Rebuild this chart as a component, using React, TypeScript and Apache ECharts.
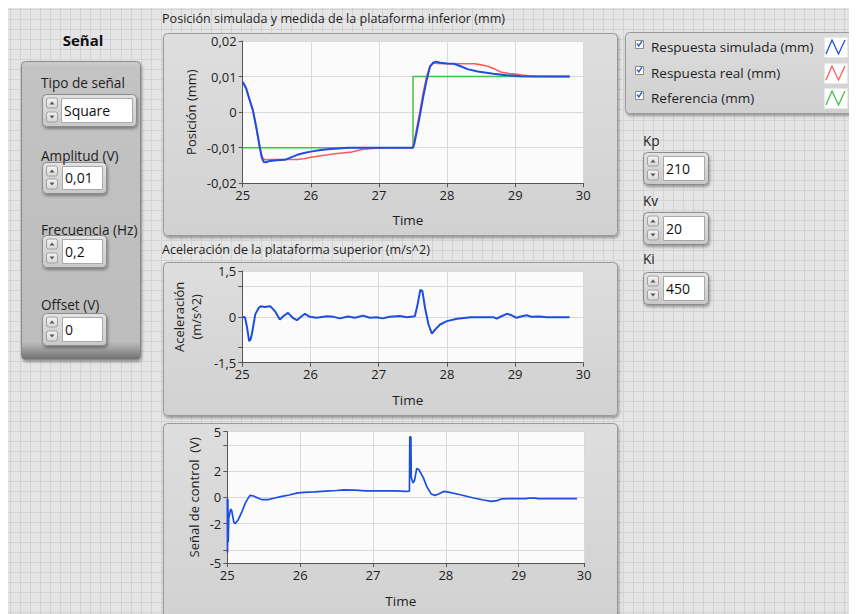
import React, { useEffect, useRef } from "react";
import * as echarts from "echarts";

// ---------- DATA ----------
const timeTicks = [25, 26, 27, 28, 29, 30];
const ctlTimeTicks = [25, 26, 27, 28, 29, 29.9];

const simulatedResponse: [number, number][] = [
  [25.0, 0.0085], [25.05, 0.0067], [25.1, 0.0035], [25.15, 0.0005], [25.2, -0.0043],
  [25.25, -0.0098], [25.28, -0.0128], [25.31, -0.0140], [25.34, -0.0141], [25.4, -0.0137],
  [25.5, -0.0135], [25.62, -0.0134], [25.7, -0.0128], [25.8, -0.0120], [25.9, -0.0115],
  [26.0, -0.0111], [26.12, -0.0107], [26.25, -0.0104], [26.4, -0.0102], [26.55, -0.0100],
  [27.0, -0.0100], [27.3, -0.0100], [27.5, -0.0100], [27.52, -0.0088], [27.56, -0.0050],
  [27.6, -0.0010], [27.65, 0.0043], [27.7, 0.0090], [27.75, 0.0128], [27.8, 0.0140],
  [27.84, 0.0142], [27.9, 0.0139], [28.0, 0.0137], [28.1, 0.0136], [28.2, 0.0129],
  [28.3, 0.0121], [28.45, 0.0114], [28.68, 0.0108], [28.87, 0.0104], [29.07, 0.0101],
  [29.3, 0.0100], [29.8, 0.0100],
];

const realResponse: [number, number][] = [
  [25.0, 0.0085], [25.05, 0.0068], [25.1, 0.0037], [25.15, 0.0006], [25.2, -0.0045],
  [25.25, -0.0100], [25.29, -0.0128], [25.33, -0.0134], [25.45, -0.0133], [25.65, -0.0133],
  [25.8, -0.0133], [25.9, -0.0131], [26.0, -0.0127], [26.2, -0.0121], [26.35, -0.0117],
  [26.5, -0.0114], [26.6, -0.0112], [26.75, -0.0105], [26.9, -0.0102], [27.1, -0.0100],
  [27.5, -0.0100], [27.52, -0.0082], [27.56, -0.0040], [27.6, 0.0000], [27.65, 0.0055],
  [27.7, 0.0100], [27.75, 0.0130], [27.8, 0.0138], [27.85, 0.0137], [28.0, 0.0136],
  [28.4, 0.0136], [28.5, 0.0133], [28.6, 0.0129], [28.7, 0.0121], [28.8, 0.0112],
  [28.9, 0.0109], [29.0, 0.0107], [29.1, 0.0104], [29.2, 0.0102], [29.3, 0.0101],
  [29.8, 0.0100],
];

const referenceSignal: [number, number][] = [
  [25.0, -0.01], [27.5, -0.01], [27.5, 0.01], [29.8, 0.01],
];

const acceleration: [number, number][] = [
  [25.0, 0.0], [25.04, -0.02], [25.07, -0.35], [25.1, -0.79], [25.12, -0.75],
  [25.14, -0.57], [25.19, 0.08], [25.24, 0.29], [25.27, 0.35], [25.33, 0.32],
  [25.41, 0.35], [25.48, 0.18], [25.55, -0.09], [25.6, 0.02], [25.67, 0.13],
  [25.74, -0.03], [25.8, -0.11], [25.87, 0.02], [25.92, 0.1], [25.99, 0.0],
  [26.09, -0.03], [26.24, 0.02], [26.34, 0.0], [26.43, -0.05], [26.55, 0.01],
  [26.65, -0.03], [26.77, 0.04], [26.87, -0.03], [26.97, -0.01], [27.06, -0.05],
  [27.16, 0.0], [27.31, 0.03], [27.41, -0.01], [27.53, 0.02], [27.57, 0.4],
  [27.61, 0.88], [27.64, 0.85], [27.68, 0.29], [27.73, -0.25], [27.78, -0.55],
  [27.83, -0.41], [27.9, -0.25], [28.0, -0.14], [28.15, -0.06], [28.35, -0.01],
  [28.54, -0.01], [28.68, -0.01], [28.73, -0.06], [28.8, 0.02], [28.88, 0.1],
  [28.95, 0.05], [29.02, -0.03], [29.1, 0.02], [29.17, 0.05], [29.24, 0.0],
  [29.36, 0.01], [29.46, -0.01], [29.8, -0.01],
];

const controlSignal: [number, number][] = [
  [25.0, -0.1], [25.003, -4.2], [25.008, -0.1], [25.013, -3.4], [25.02, -1.6],
  [25.045, -0.9], [25.06, -1.0], [25.09, -1.9], [25.11, -2.0], [25.15, -1.7],
  [25.2, -1.1], [25.25, -0.4], [25.31, 0.15], [25.36, 0.1], [25.42, -0.05],
  [25.48, -0.18], [25.56, -0.17], [25.65, -0.05], [25.75, 0.08], [25.85, 0.18],
  [25.95, 0.32], [26.05, 0.38], [26.2, 0.42], [26.35, 0.47], [26.5, 0.52],
  [26.6, 0.57], [26.75, 0.55], [26.9, 0.5], [27.1, 0.5], [27.3, 0.5],
  [27.45, 0.45], [27.5, 0.48], [27.505, 4.6], [27.52, 4.6], [27.525, 1.5],
  [27.55, 1.1], [27.57, 1.3], [27.6, 2.2], [27.63, 2.1], [27.69, 1.5],
  [27.74, 0.8], [27.8, 0.25], [27.85, 0.15], [27.9, 0.25], [27.97, 0.45],
  [28.02, 0.42], [28.2, 0.2], [28.38, -0.05], [28.52, -0.2], [28.62, -0.3],
  [28.7, -0.25], [28.76, -0.12], [28.85, -0.1], [29.1, -0.1], [29.15, -0.05],
  [29.22, -0.06], [29.27, -0.1], [29.8, -0.1],
];

const accGridTicks = [-1.5, -1, 0, 1, 1.5];
const accLabelTicks = [-1.5, 0, 1.5];
const ctlGridTicks = [-5, -4, -2, 0, 2, 4, 5];
const ctlLabelTicks = [-5, -2, 0, 2, 5];

const legendItems = ["Respuesta simulada (mm)", "Respuesta real (mm)", "Referencia (mm)"];
const seriesColors = ["#1d4ee0", "#ff5a5a", "#45bf45"];

const signalControls = [
  { label: "Tipo de señal", value: "Square" },
  { label: "Amplitud (V)", value: "0,01" },
  { label: "Frecuencia (Hz)", value: "0,2" },
  { label: "Offset (V)", value: "0" },
];
const gainControls = [
  { label: "Kp", value: "210" },
  { label: "Kv", value: "20" },
  { label: "Ki", value: "450" },
];

// ---------- STYLE ----------
const F = "'Open Sans', 'Noto Sans', sans-serif";
const TXT = "#1e1e1e";
const O = 8; // page offset (body margin)

const fmt = (v: number) => String(Number(v.toFixed(4))).replace(".", ",");

function grad(stops: [number, string][]) {
  return {
    type: "linear", x: 0, y: 0, x2: 0, y2: 1,
    colorStops: stops.map(([offset, color]) => ({ offset, color })),
  };
}

function panel(x: number, y: number, w: number, h: number, fill: any, stroke = "#9a9a9a") {
  return {
    type: "rect", z: -50, silent: true,
    shape: { x: x - O + 0.5, y: y - O + 0.5, width: w, height: h, r: 4 },
    style: {
      fill, stroke, lineWidth: 1,
      shadowBlur: 3, shadowOffsetX: 1, shadowOffsetY: 2, shadowColor: "rgba(0,0,0,0.35)",
    },
  };
}

function text(x: number, y: number, s: string, opts: any = {}) {
  return {
    type: "text", z: 10, silent: true,
    x: x - O, y: y - O,
    style: {
      text: s, fill: opts.fill || TXT, font: `${opts.bold ? "bold " : ""}${opts.size || 13}px ${F}`,
      textAlign: opts.align || "left", textVerticalAlign: "middle",
    },
  };
}

function spinControl(x: number, y: number, w: number, h: number, fieldX: number, value: string, out: any[]) {
  out.push(panel(x, y, w, h, grad([[0, "#e2e2e2"], [1, "#c9c9c9"]]), "#8c8c8c"));
  const bx = x + 4.5, bw = 11, bh = 10;
  const upY = y + 4, dnY = y + h - 4 - bh;
  for (const [by, up] of [[upY, true], [dnY, false]] as [number, boolean][]) {
    out.push({
      type: "rect", z: -40, silent: true,
      shape: { x: bx - O, y: by - O, width: bw, height: bh, r: 2 },
      style: { fill: grad([[0, "#f4f4f4"], [1, "#d6d6d6"]]), stroke: "#a0a0a0", lineWidth: 1 },
    });
    const cx = bx + bw / 2 - O, cy = by + bh / 2 - O;
    out.push({
      type: "polygon", z: -39, silent: true,
      shape: {
        points: up
          ? [[cx - 2.5, cy + 1.5], [cx + 2.5, cy + 1.5], [cx, cy - 1.5]]
          : [[cx - 2.5, cy - 1.5], [cx + 2.5, cy - 1.5], [cx, cy + 1.5]],
      },
      style: { fill: "#555" },
    });
  }
  out.push({
    type: "rect", z: -40, silent: true,
    shape: { x: fieldX - O + 0.5, y: y + 4 - O + 0.5, width: x + w - 4 - fieldX, height: h - 8 },
    style: { fill: "#ffffff", stroke: "#a8a8a8", lineWidth: 1 },
  });
  out.push(text(fieldX + 3, y + h / 2, value, { size: 14, fill: "#111" }));
}

function buildGraphics() {
  const g: any[] = [];
  // page background with LabVIEW grid
  g.push({ type: "rect", z: -100, silent: true, shape: { x: 0, y: 0, width: 860, height: 620 }, style: { fill: "#e5e5e5" } });
  for (let x = 10; x < 860; x += 10.05) {
    const px = Math.round(x - O) + 0.5;
    g.push({ type: "line", z: -99, silent: true, shape: { x1: px, y1: 0, x2: px, y2: 620 }, style: { stroke: "#d3d3d3", lineWidth: 1 } });
  }
  for (let y = 9; y < 620; y += 10.05) {
    const py = Math.round(y - O) + 0.5;
    g.push({ type: "line", z: -99, silent: true, shape: { x1: 0, y1: py, x2: 860, y2: py }, style: { stroke: "#d3d3d3", lineWidth: 1 } });
  }

  // Left "Señal" panel
  g.push(text(83, 40, "Señal", { bold: true, size: 15, align: "center", fill: "#111" }));
  g.push(panel(21, 61, 119, 298, grad([[0, "#cdcdcd"], [0.02, "#c3c3c3"], [0.94, "#bdbdbd"], [0.965, "#9e9e9e"], [1, "#6e6e6e"]]), "#8a8a8a"));
  const sc = [
    { ly: 82, y: 94, w: 94, h: 32, fx: 61 },
    { ly: 155, y: 162, w: 64, h: 31, fx: 62 },
    { ly: 229, y: 235, w: 64, h: 32, fx: 62 },
    { ly: 304, y: 313, w: 64, h: 32, fx: 62 },
  ];
  signalControls.forEach((c, i) => {
    const p = sc[i];
    g.push(text(41, p.ly, c.label, { size: 13.6 }));
    spinControl(42, p.y, p.w, p.h, p.fx, c.value, g);
  });

  // Chart panels
  const chartFill = grad([[0, "#dedede"], [1, "#d1d1d1"]]);
  g.push(panel(163, 33, 454, 202, chartFill));
  g.push(panel(163, 262, 454, 153, chartFill));
  g.push(panel(163, 423, 454, 200, chartFill));
  g.push(text(162, 18, "Posición simulada y medida de la plataforma inferior (mm)", { size: 12.6 }));
  g.push(text(162, 249, "Aceleración de la plataforma superior (m/s^2)", { size: 12.6 }));

  // Legend panel
  g.push(panel(625, 32, 240, 81, grad([[0, "#dcdcdc"], [1, "#d0d0d0"]])));
  const rows = [47, 73, 98];
  legendItems.forEach((name, i) => {
    const cy = rows[i];
    g.push({
      type: "rect", z: 5, silent: true,
      shape: { x: 635 - O + 0.5, y: cy - 7 - O + 0.5, width: 8, height: 8 },
      style: { fill: "#ffffff", stroke: "#8a8a8a", lineWidth: 1 },
    });
    g.push({
      type: "polyline", z: 6, silent: true,
      shape: { points: [[637 - O, cy - 3.5 - O], [638.8 - O, cy - 1 - O], [642 - O, cy - 6 - O]] },
      style: { stroke: "#3a5fcd", lineWidth: 1.4, fill: "none" },
    });
    g.push(text(651, cy, name, { size: 13.5 }));
    const sy = cy - 10;
    g.push({
      type: "rect", z: 5, silent: true,
      shape: { x: 824 - O + 0.5, y: sy - O + 0.5, width: 23, height: 20 },
      style: { fill: "#ffffff", stroke: "#e8e8e8", lineWidth: 1 },
    });
    g.push({
      type: "polyline", z: 6, silent: true,
      shape: {
        points: [
          [826 - O, sy + 17 - O], [832 - O, sy + 3 - O], [838.5 - O, sy + 17 - O], [845 - O, sy + 3 - O],
        ],
      },
      style: { stroke: seriesColors[i], lineWidth: 1.3, fill: "none" },
    });
  });

  // Gain controls
  const gc = [
    { ly: 140, y: 152 },
    { ly: 200, y: 212 },
    { ly: 258, y: 272 },
  ];
  gainControls.forEach((c, i) => {
    const p = gc[i];
    g.push(text(643, p.ly, c.label, { size: 13.6 }));
    spinControl(643, p.y, 65, 32, 663, c.value, g);
  });
  return g;
}

function xAxisBase(gridIndex: number, gap: number) {
  return {
    type: "value", gridIndex, min: 25,
    name: "Time", nameLocation: "middle", nameGap: gap,
    nameTextStyle: { fontSize: 13.5, color: TXT, fontFamily: F, padding: [0, 10, 0, 0] },
    axisLine: { show: true, onZero: false, lineStyle: { color: "#555", width: 1 } },
    axisTick: { show: true, length: 4, lineStyle: { color: "#555" } },
    axisLabel: { fontSize: 13, color: TXT, fontFamily: F, margin: 5 },
    splitLine: { show: true, lineStyle: { color: "#d9d9d9", width: 1 } },
  };
}

function yAxisBase(gridIndex: number, name: string, gap: number) {
  return {
    type: "value", gridIndex,
    name, nameLocation: "middle", nameGap: gap,
    nameTextStyle: { fontSize: 13, color: TXT, fontFamily: F, lineHeight: 17 },
    axisLine: { show: true, onZero: false, lineStyle: { color: "#555", width: 1 } },
    axisTick: { show: true, length: 4, lineStyle: { color: "#555" } },
    axisLabel: { fontSize: 13, color: TXT, fontFamily: F, margin: 6, formatter: fmt },
    splitLine: { show: true, lineStyle: { color: "#d9d9d9", width: 1 } },
  };
}

export default function App() {
  const ref = useRef<HTMLDivElement>(null);
  useEffect(() => {
    document.documentElement.style.overflow = "hidden";
    document.body.style.overflow = "hidden";
    if (!ref.current) return;
    const chart = echarts.init(ref.current, undefined, { renderer: "svg" });
    const gridStyle = { show: true, backgroundColor: "#fbfbfb", borderWidth: 0, containLabel: false };
    const lineSeries = (name: string, data: any, xi: number, color: string, width: number, z: number) => ({
      type: "line", name, data, xAxisIndex: xi, yAxisIndex: xi,
      showSymbol: false, symbol: "none", z, lineStyle: { color, width }, itemStyle: { color },
      silent: true,
    });
    chart.setOption({
      animation: false,
      textStyle: { fontFamily: F },
      graphic: { elements: buildGraphics() },
      grid: [
        { ...gridStyle, left: 242.7 - O, top: 41 - O, width: 340.6, height: 142.3 },
        { ...gridStyle, left: 242.3 - O, top: 271 - O, width: 341, height: 91.7 },
        { ...gridStyle, left: 227.3 - O, top: 431.7 - O, width: 357, height: 131.3 },
      ],
      xAxis: [
        { ...xAxisBase(0, 30), max: timeTicks[timeTicks.length - 1], interval: 1 },
        { ...xAxisBase(1, 30), max: timeTicks[timeTicks.length - 1], interval: 1 },
        {
          ...xAxisBase(2, 31), max: ctlTimeTicks[ctlTimeTicks.length - 1],
          axisTick: { show: true, length: 4, lineStyle: { color: "#555" }, customValues: ctlTimeTicks },
          axisLabel: {
            fontSize: 13, color: TXT, fontFamily: F, margin: 5, customValues: ctlTimeTicks,
            formatter: (v: number) => String(Math.round(v)),
          },
        },
      ],
      yAxis: [
        { ...yAxisBase(0, "Posición (mm)", 43), min: -0.02, max: 0.02, interval: 0.01 },
        {
          ...yAxisBase(1, "Aceleración\n(m/s^2)", 38), min: -1.5, max: 1.5,
          axisTick: { show: true, length: 4, lineStyle: { color: "#555" }, customValues: accGridTicks },
          axisLabel: { fontSize: 13, color: TXT, fontFamily: F, margin: 6, formatter: fmt, customValues: accLabelTicks },
        },
        {
          ...yAxisBase(2, "Señal de control  (V)", 25), min: -5, max: 5,
          axisTick: { show: true, length: 4, lineStyle: { color: "#555" }, customValues: ctlGridTicks },
          axisLabel: { fontSize: 13, color: TXT, fontFamily: F, margin: 6, formatter: fmt, customValues: ctlLabelTicks },
        },
      ],
      series: [
        lineSeries("Referencia (mm)", referenceSignal, 0, seriesColors[2], 1.5, 2),
        lineSeries("Respuesta real (mm)", realResponse, 0, seriesColors[1], 1.6, 3),
        lineSeries("Respuesta simulada (mm)", simulatedResponse, 0, seriesColors[0], 2, 4),
        lineSeries("Aceleración", acceleration, 1, seriesColors[0], 2, 4),
        lineSeries("Señal de control", controlSignal, 2, seriesColors[0], 1.7, 4),
      ],
    });
    return () => chart.dispose();
  }, []);
  return <div ref={ref} style={{ width: 849, height: 606 }} />;
}
